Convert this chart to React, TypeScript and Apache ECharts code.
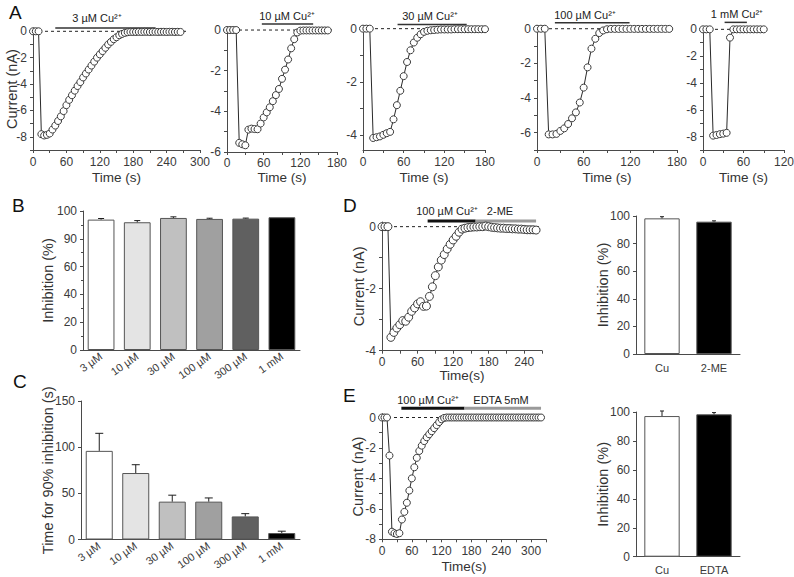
import React, { useEffect, useRef } from "react";
import * as echarts from "echarts";

const FONT = '"Liberation Sans", Arial, Helvetica, sans-serif';
const INK = "#3a3a3a";
const NAME_INK = "#333333";
const AXIS_C = "#4a4a4a";

// ---------- Panel A: current traces (time s, current nA) ----------
const A1_T = [0, 5, 10, 15, 20, 25, 30, 35, 40, 45, 50, 55, 60, 65, 70, 75, 80, 85, 90, 95, 100, 105, 110, 115, 120, 125, 130, 135, 140, 145, 150, 155, 160, 165, 170, 175, 180, 185, 190, 195, 200, 205, 210, 215, 220, 225, 230, 235, 240, 245, 250, 255, 260, 265];
const A1_I = [0, 0, 0, -7.8, -7.9, -7.85, -7.75, -7.45, -7.15, -6.8, -6.45, -6.05, -5.6, -5.2, -4.85, -4.5, -4.15, -3.85, -3.5, -3.2, -2.9, -2.6, -2.3, -2.0, -1.75, -1.5, -1.25, -1.0, -0.8, -0.6, -0.45, -0.3, -0.2, -0.12, -0.07, -0.05, -0.05, -0.05, -0.04, -0.05, -0.04, -0.04, -0.05, -0.04, -0.04, -0.05, -0.04, -0.04, -0.05, -0.04, -0.04, -0.05, -0.04, -0.05];

const A2_T = [0, 5, 10, 15, 20, 25, 30, 35, 40, 45, 50, 55, 60, 65, 70, 75, 80, 85, 90, 95, 100, 105, 110, 115, 120, 125, 130, 135, 140, 145, 150, 155, 160, 165];
const A2_I = [0, 0, 0, 0, -5.55, -5.62, -5.67, -4.9, -4.85, -4.87, -4.88, -4.6, -4.3, -4.05, -3.8, -3.5, -3.2, -2.9, -2.4, -1.95, -1.45, -0.9, -0.45, -0.12, -0.03, -0.02, -0.02, -0.02, -0.02, -0.02, -0.02, -0.02, -0.02, -0.02];

const A3_T = [0, 5, 10, 15, 20, 25, 30, 35, 40, 45, 50, 55, 60, 65, 70, 75, 80, 85, 90, 95, 100, 105, 110, 115, 120, 125, 130, 135, 140, 145, 150, 155, 160, 165, 170, 175, 180];
const A3_I = [0, 0, 0, -4.1, -4.07, -4.04, -3.98, -3.92, -3.87, -3.4, -2.87, -2.33, -1.78, -1.25, -0.81, -0.52, -0.34, -0.21, -0.12, -0.08, -0.06, -0.05, -0.04, -0.03, -0.03, -0.03, -0.03, -0.02, -0.02, -0.02, -0.02, -0.02, -0.02, -0.02, -0.02, -0.02, -0.02];

const A4_T = [0, 5, 10, 15, 20, 25, 30, 35, 40, 45, 50, 55, 60, 65, 70, 75, 80, 85, 90, 95, 100, 105, 110, 115, 120, 125, 130, 135, 140, 145, 150, 155, 160, 165, 170];
const A4_I = [0, 0, 0, -6.1, -6.1, -6.07, -5.9, -5.75, -5.5, -5.17, -4.83, -4.26, -3.4, -2.23, -1.15, -0.58, -0.25, -0.1, -0.03, -0.01, -0.01, -0.01, -0.01, -0.01, -0.01, -0.01, -0.01, -0.01, -0.01, -0.01, -0.01, -0.01, -0.01, -0.01, -0.01];

const A5_T = [0, 5, 10, 15, 20, 25, 30, 35, 40, 45, 50, 55, 60, 65, 70, 75, 80, 85, 90];
const A5_I = [0, 0, 0, -7.93, -7.88, -7.82, -7.78, -7.72, -0.62, 0, 0, 0, 0, 0, 0, 0, 0, 0, 0];

// ---------- Panel D trace ----------
const D_T = [0, 5, 10, 15, 20, 25, 30, 35, 40, 45, 50, 55, 60, 65, 70, 75, 80, 85, 90, 95, 100, 105, 110, 115, 120, 125, 130, 135, 140, 145, 150, 155, 160, 165, 170, 175, 180, 185, 190, 195, 200, 205, 210, 215, 220, 225, 230, 235, 240, 245, 250, 255, 260];
const D_I = [0, 0, 0, -3.57, -3.41, -3.27, -3.16, -3.03, -3.05, -2.92, -2.73, -2.62, -2.49, -2.42, -2.57, -2.56, -2.25, -1.94, -1.58, -1.3, -1.08, -0.9, -0.72, -0.57, -0.43, -0.31, -0.18, -0.08, -0.05, -0.03, -0.02, -0.01, -0.01, 0, 0, 0.02, 0, -0.02, -0.03, -0.04, -0.05, -0.05, -0.06, -0.06, -0.07, -0.07, -0.08, -0.08, -0.09, -0.1, -0.1, -0.1, -0.11];

// ---------- Panel E trace ----------
const E_T = [0, 5, 10, 15, 20, 25, 30, 35, 40, 45, 50, 55, 60, 65, 70, 75, 80, 85, 90, 95, 100, 105, 110, 115, 120, 125, 130, 135, 140, 145, 150, 155, 160, 165, 170, 175, 180, 185, 190, 195, 200, 205, 210, 215, 220, 225, 230, 235, 240, 245, 250, 255, 260, 265, 270, 275, 280, 285, 290, 295, 300, 305, 310, 315, 320];
const E_I = [0, 0, 0, -2.5, -7.5, -7.6, -7.65, -7.6, -6.7, -6.2, -5.6, -4.8, -4.0, -3.27, -2.65, -2.2, -1.85, -1.55, -1.3, -1.1, -0.9, -0.7, -0.5, -0.3, -0.12, -0.03, 0, 0, 0, 0, 0, 0, 0, 0, 0, 0, 0, 0, 0, 0, 0, 0, 0, 0, 0, 0, 0, 0, 0, 0, 0, 0, 0, 0, 0, 0, 0, 0, 0, 0, 0, 0, 0, 0, 0];

// ---------- Bar panels ----------
const CONC = ["3 µM", "10 µM", "30 µM", "100 µM", "300 µM", "1 mM"];
const B_MEAN = [93.8, 91.9, 95.0, 94.3, 94.5, 95.5];
const B_SEM = [0.8, 1.2, 0.8, 0.5, 0.4, 0];
const B_TICK_TEXT = ["0", "20", "40", "60", "90", "100"];
const C_MEAN = [96, 72, 41, 41, 25, 7];
const C_SEM = [19, 9, 7, 4, 3, 2];
const SHADES = ["#ffffff", "#e4e4e4", "#c0c0c0", "#a0a0a0", "#606060", "#000000"];

const D_CATS = ["Cu", "2-ME"];
const D_MEAN = [98.3, 95.9];
const D_SEM = [1.2, 0.6];
const E_CATS = ["Cu", "EDTA"];
const E_MEAN = [97.2, 98.4];
const E_SEM = [3.5, 1.2];
const PAIR_SHADES = ["#ffffff", "#000000"];

// Drug application bars (start s, end s)
const A1_BAR = [40, 220];
const A2_BAR = [57, 141];
const A3_BAR = [51, 153];
const A4_BAR = [23, 119];
const A5_BAR = [32, 65];
const D_CU_BAR = [77, 158];
const D_ME_BAR = [158, 260];
const E_CU_BAR = [39, 166];
const E_EDTA_BAR = [166, 320];

function range(a: number, b: number, s: number) {
  const out: number[] = [];
  for (let v = a; v <= b + 1e-9; v += s) out.push(Math.round(v * 100) / 100);
  return out;
}

function buildOption() {
  const grids: any[] = [];
  const xAxes: any[] = [];
  const yAxes: any[] = [];
  const series: any[] = [];

  const addTrace = (p: any) => {
    const gi = grids.length;
    grids.push({ left: p.left, top: p.top, width: p.width, height: p.height, containLabel: false, outerBoundsMode: "none" });
    xAxes.push({
      gridIndex: gi, type: "value", min: 0, max: p.xMax,
      axisLine: { show: true, onZero: false, lineStyle: { color: AXIS_C, width: 1 } },
      axisTick: { show: true, customValues: p.xTicks, length: 3, lineStyle: { color: AXIS_C } },
      axisLabel: { customValues: p.xLabels, fontSize: 12, color: INK, fontFamily: FONT, margin: p.xMargin },
      splitLine: { show: false },
      name: p.xName, nameLocation: "middle", nameGap: p.xNameGap, nameMoveOverlap: false,
      nameTextStyle: { fontSize: 13.5, color: NAME_INK, fontFamily: FONT },
    });
    yAxes.push({
      gridIndex: gi, type: "value", min: p.yMin, max: p.yMax,
      axisLine: { show: true, onZero: false, lineStyle: { color: AXIS_C, width: 1 } },
      axisTick: { show: true, customValues: p.yTicks, length: 3, lineStyle: { color: AXIS_C } },
      axisLabel: { customValues: p.yLabels, fontSize: 12, color: INK, fontFamily: FONT, margin: 6 },
      splitLine: { show: false },
      name: p.yName || "", nameLocation: "middle", nameGap: p.yNameGap || 10, nameMoveOverlap: false,
      nameTextStyle: { fontSize: 14.5, color: NAME_INK, fontFamily: FONT },
    });
    series.push({
      type: "line", xAxisIndex: gi, yAxisIndex: gi, data: [[0, 0], [p.zeroEnd, 0]],
      symbol: "none", silent: true, z: 1, clip: false,
      lineStyle: { color: "#222", width: 1, type: [3, 3] },
    });
    series.push({
      type: "line", xAxisIndex: gi, yAxisIndex: gi,
      data: p.t.map((x: number, k: number) => [x, p.i[k]]),
      symbol: "circle", symbolSize: p.sym || 7, showAllSymbol: true, clip: false, z: 3,
      itemStyle: { color: "#ffffff", borderColor: "#3a3a3a", borderWidth: 1 },
      lineStyle: { color: "#2a2a2a", width: 1 },
    });
    (p.bars || []).forEach((b: any) => {
      series.push({
        type: "line", xAxisIndex: gi, yAxisIndex: gi,
        data: [[b.span[0], b.y], [b.span[1], b.y]], symbol: "none", clip: false, silent: true, z: 2,
        lineStyle: { color: b.color, width: b.w },
      });
    });
  };

  const errRender = (halfW: number) => (params: any, api: any) => {
    const x = api.value(0);
    const m = api.value(1);
    const e = api.value(2);
    if (!e) return null;
    const base = api.coord([x, m]);
    const top = api.coord([x, m + e]);
    const st = { stroke: "#1e1e1e", lineWidth: 1 };
    return {
      type: "group",
      children: [
        { type: "line", shape: { x1: base[0], y1: base[1], x2: top[0], y2: top[1] }, style: st },
        { type: "line", shape: { x1: top[0] - halfW, y1: top[1], x2: top[0] + halfW, y2: top[1] }, style: st },
      ],
    };
  };

  const addBars = (p: any) => {
    const gi = grids.length;
    grids.push({ left: p.left, top: p.top, width: p.width, height: p.height, containLabel: false, outerBoundsMode: "none" });
    xAxes.push({
      gridIndex: gi, type: "category", data: p.cats,
      axisLine: { show: true, lineStyle: { color: AXIS_C, width: 1 } },
      axisTick: { show: false },
      axisLabel: { interval: 0, rotate: p.rotate || 0, fontSize: 11, color: INK, fontFamily: FONT, margin: p.labelMargin },
      splitLine: { show: false },
    });
    yAxes.push({
      gridIndex: gi, type: "value", min: 0, max: p.yMax, interval: p.yInterval,
      axisLine: { show: true, lineStyle: { color: AXIS_C, width: 1 } },
      axisTick: { show: true, length: 3, lineStyle: { color: AXIS_C } },
      minorTick: { show: !!p.minor, splitNumber: 2, length: 2, lineStyle: { color: AXIS_C } },
      axisLabel: { fontSize: 12, color: INK, fontFamily: FONT, margin: 6, formatter: p.fmt },
      splitLine: { show: false },
      name: p.yName, nameLocation: "middle", nameGap: p.yNameGap, nameMoveOverlap: false,
      nameTextStyle: { fontSize: 14.5, color: NAME_INK, fontFamily: FONT },
    });
    series.push({
      type: "bar", xAxisIndex: gi, yAxisIndex: gi, barWidth: p.barWidth,
      data: p.vals.map((v: number, k: number) => ({ value: v, itemStyle: { color: p.colors[k] } })),
      itemStyle: { borderColor: "#555", borderWidth: 1 },
    });
    series.push({
      type: "custom", xAxisIndex: gi, yAxisIndex: gi, z: 5, silent: true,
      renderItem: errRender(p.cap),
      encode: { x: 0, y: 1 },
      data: p.vals.map((v: number, k: number) => [k, v, p.errs[k]]),
    });
  };

  // Row A
  addTrace({ left: 33, top: 28, width: 167, height: 122, xMax: 300, yMin: -9, yMax: 0.25,
    xTicks: range(0, 300, 30), xLabels: range(0, 300, 60), yTicks: range(-9, 0, 1), yLabels: [-8, -6, -4, -2, 0],
    xName: "Time (s)", xNameGap: 20, xMargin: 6, yName: "Current (nA)", yNameGap: 14,
    t: A1_T, i: A1_I, zeroEnd: 275, bars: [{ span: A1_BAR, y: 0.25, color: "#333", w: 1.5 }] });
  addTrace({ left: 227, top: 28, width: 110, height: 124, xMax: 180, yMin: -6, yMax: 0.1,
    xTicks: range(0, 180, 30), xLabels: range(0, 180, 60), yTicks: range(-6, 0, 1), yLabels: [-6, -4, -2, 0],
    xName: "Time (s)", xNameGap: 18, xMargin: 5,
    t: A2_T, i: A2_I, zeroEnd: 172, bars: [{ span: A2_BAR, y: 0.3, color: "#333", w: 1.5 }] });
  addTrace({ left: 363, top: 26, width: 122, height: 124, xMax: 180, yMin: -4.55, yMax: 0.1,
    xTicks: range(0, 180, 30), xLabels: range(0, 180, 60), yTicks: range(-4, 0, 1), yLabels: [-4, -2, 0],
    xName: "Time (s)", xNameGap: 20, xMargin: 6,
    t: A3_T, i: A3_I, zeroEnd: 185, bars: [{ span: A3_BAR, y: 0.16, color: "#333", w: 1.5 }] });
  addTrace({ left: 537, top: 27, width: 140, height: 123, xMax: 180, yMin: -7, yMax: 0.1,
    xTicks: range(0, 180, 30), xLabels: range(0, 180, 60), yTicks: range(-7, 0, 1), yLabels: [-6, -4, -2, 0],
    xName: "Time (s)", xNameGap: 20, xMargin: 6,
    t: A4_T, i: A4_I, zeroEnd: 172, bars: [{ span: A4_BAR, y: 0.35, color: "#333", w: 1.5 }] });
  addTrace({ left: 703, top: 28, width: 81, height: 122, xMax: 120, yMin: -9, yMax: 0.1,
    xTicks: range(0, 120, 30), xLabels: range(0, 120, 60), yTicks: range(-9, 0, 1), yLabels: [-8, -6, -4, -2, 0],
    xName: "Time (s)", xNameGap: 20, xMargin: 6,
    t: A5_T, i: A5_I, zeroEnd: 90, bars: [{ span: A5_BAR, y: 0.52, color: "#333", w: 1.5 }] });

  // B and C
  addBars({ left: 83, top: 211, width: 217, height: 139, cats: CONC, vals: B_MEAN, errs: B_SEM, colors: SHADES,
    yMax: 100, yInterval: 20, minor: true, fmt: (v: number) => B_TICK_TEXT[Math.round(v / 20)],
    yName: "Inhibition (%)", yNameGap: 28, rotate: 35, labelMargin: 5, barWidth: "74%", cap: 3 });
  addBars({ left: 81, top: 401, width: 219, height: 138.5, cats: CONC, vals: C_MEAN, errs: C_SEM, colors: SHADES,
    yMax: 150, yInterval: 50, minor: false,
    yName: "Time for 90% inhibition (s)", yNameGap: 26, rotate: 35, labelMargin: 5, barWidth: "74%", cap: 4 });

  // D and E traces
  addTrace({ left: 382, top: 222, width: 160, height: 128.7, xMax: 270, yMin: -4, yMax: 0.15,
    xTicks: range(0, 270, 30), xLabels: range(0, 240, 60), yTicks: range(-4, 0, 1), yLabels: [-4, -2, 0],
    xName: "Time(s)", xNameGap: 18, xMargin: 5, yName: "Current (nA)", yNameGap: 16, sym: 8,
    t: D_T, i: D_I, zeroEnd: 265,
    bars: [{ span: D_CU_BAR, y: 0.18, color: "#111", w: 3 }, { span: D_ME_BAR, y: 0.18, color: "#9a9a9a", w: 3 }] });
  addTrace({ left: 382, top: 413.7, width: 164, height: 125.6, xMax: 330, yMin: -8, yMax: 0.25,
    xTicks: range(0, 330, 30), xLabels: range(0, 300, 60), yTicks: range(-8, 0, 1), yLabels: [-8, -6, -4, -2, 0],
    xName: "Time(s)", xNameGap: 20, xMargin: 6, yName: "Current (nA)", yNameGap: 17, sym: 7,
    t: E_T, i: E_I, zeroEnd: 322,
    bars: [{ span: E_CU_BAR, y: 0.6, color: "#111", w: 3 }, { span: E_EDTA_BAR, y: 0.6, color: "#9a9a9a", w: 3 }] });

  // D and E summary bars
  addBars({ left: 636, top: 216, width: 104, height: 138, cats: D_CATS, vals: D_MEAN, errs: D_SEM, colors: PAIR_SHADES,
    yMax: 100, yInterval: 20, yName: "Inhibition (%)", yNameGap: 26, labelMargin: 8, barWidth: "68%", cap: 2 });
  addBars({ left: 636, top: 412, width: 104, height: 144.7, cats: E_CATS, vals: E_MEAN, errs: E_SEM, colors: PAIR_SHADES,
    yMax: 100, yInterval: 20, yName: "Inhibition (%)", yNameGap: 26, labelMargin: 8, barWidth: "68%", cap: 2 });

  const letter = (t: string, x: number, y: number) => ({
    type: "text", x, y, silent: true,
    style: { text: t, font: `19px ${FONT}`, fill: "#111", align: "left", verticalAlign: "top" },
  });
  const note = (t: string, x: number, y: number) => ({
    type: "text", x, y, silent: true,
    style: { text: t, font: `11px ${FONT}`, fill: "#222", align: "center", verticalAlign: "middle" },
  });

  return {
    animation: false,
    backgroundColor: "#ffffff",
    grid: grids,
    xAxis: xAxes,
    yAxis: yAxes,
    series,
    graphic: [
      letter("A", 9, 3), letter("B", 12, 196), letter("C", 13, 372), letter("D", 343, 196), letter("E", 343, 386),
      note("3 µM Cu²⁺", 97, 18), note("10 µM Cu²⁺", 287, 16), note("30 µM Cu²⁺", 430, 16),
      note("100 µM Cu²⁺", 585, 15), note("1 mM Cu²⁺", 737, 14),
      note("100 µM Cu²⁺", 447, 211), note("2-ME", 500, 211),
      note("100 µM Cu²⁺", 428, 400), note("EDTA 5mM", 501, 400),
    ],
  };
}

export default function App() {
  const ref = useRef<HTMLDivElement>(null);
  useEffect(() => {
    if (!ref.current) return;
    const chart = echarts.init(ref.current, undefined, { renderer: "svg" });
    chart.setOption(buildOption() as any);
    return () => chart.dispose();
  }, []);
  return (
    <div
      ref={ref}
      style={{ position: "absolute", left: 0, top: 0, width: 794, height: 577, background: "#fff" }}
    />
  );
}
